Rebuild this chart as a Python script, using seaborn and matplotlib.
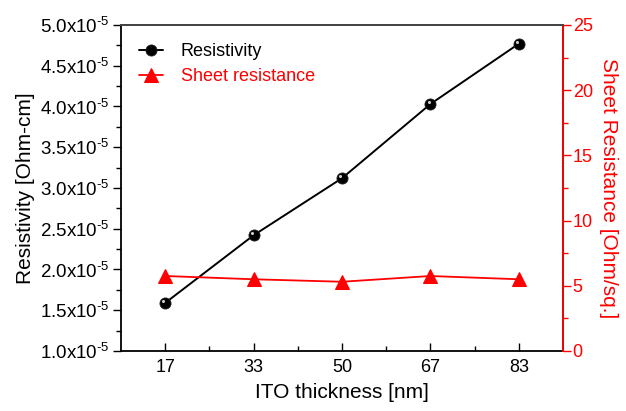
import matplotlib
matplotlib.use("Agg")
import matplotlib.pyplot as plt
import matplotlib.transforms as mtransforms
from matplotlib.ticker import FuncFormatter, MultipleLocator, FixedLocator
import numpy as np
import pandas as pd
import seaborn as sns

# ITO film data
thickness_labels = ["17", "33", "50", "67", "83"]
resistivity = [1.59e-5, 2.42e-5, 3.12e-5, 4.03e-5, 4.77e-5]      # Ohm-cm
sheet_resistance = [5.75, 5.50, 5.31, 5.75, 5.50]                 # Ohm/sq.

sns.set_style("white")
plt.rcParams["font.family"] = ["Liberation Sans", "DejaVu Sans"]
plt.rcParams["mathtext.fontset"] = "custom"
plt.rcParams["mathtext.rm"] = "Liberation Sans"
plt.rcParams["mathtext.it"] = "Liberation Sans"
plt.rcParams["mathtext.default"] = "regular"
for key in ("text.color", "axes.labelcolor", "xtick.color", "ytick.color"):
    plt.rcParams[key] = "black"

df = pd.DataFrame({
    "pos": np.arange(len(thickness_labels)),
    "thickness": thickness_labels,
    "resistivity": resistivity,
    "sheet": sheet_resistance,
})

fig = plt.figure(figsize=(6.26, 4.11), dpi=100)
ax = fig.add_axes([0.1933, 0.146, 0.7061, 0.7932])
ax2 = ax.twinx()

RED = "#ff0000"

sns.lineplot(data=df, x="pos", y="resistivity", ax=ax, color="black",
             marker="o", markersize=8, markerfacecolor="black",
             markeredgecolor="#222222", markeredgewidth=0.6,
             linewidth=1.4, legend=False, zorder=3)
sns.lineplot(data=df, x="pos", y="sheet", ax=ax2, color=RED,
             marker="^", markersize=10, markerfacecolor=RED,
             markeredgecolor=RED, linewidth=1.3, legend=False, zorder=3)

# glossy highlight on the spheres, offset a couple of points up-left
shine = ax.transData + mtransforms.ScaledTranslation(-1.3 / 72, 1.3 / 72,
                                                     fig.dpi_scale_trans)
ax.plot(df["pos"], df["resistivity"], "o", color="#d0d0d0", markersize=2.2,
        markeredgewidth=0, zorder=4, transform=shine)

ax.set_xlim(-0.5, 4.5)
ax.set_ylim(1.0e-5, 5.0e-5)
ax2.set_ylim(0, 25)

ax.xaxis.set_major_locator(FixedLocator(df["pos"]))
ax.set_xticklabels(thickness_labels)
ax.xaxis.set_minor_locator(FixedLocator(df["pos"][:-1] + 0.5))
ax.yaxis.set_major_locator(MultipleLocator(0.5e-5))
ax.yaxis.set_minor_locator(MultipleLocator(0.25e-5))
ax.yaxis.set_major_formatter(
    FuncFormatter(lambda v, p: r"$%.1f\mathrm{x}10^{\text{-}5}$" % (v * 1e5)))
ax2.yaxis.set_major_locator(MultipleLocator(5))
ax2.yaxis.set_minor_locator(MultipleLocator(2.5))

ax.tick_params(axis="x", which="major", direction="in", length=6, width=1,
               labelsize=13, pad=6, bottom=True)
ax.tick_params(axis="x", which="minor", direction="in", length=3.5, width=1,
               bottom=True)
ax.tick_params(axis="y", which="major", direction="out", length=6, width=1,
               labelsize=13.5, pad=2, left=True)
ax.tick_params(axis="y", which="minor", direction="out", length=3.5, width=1,
               left=True)
ax2.tick_params(axis="y", which="major", direction="out", length=6, width=1,
                labelsize=13, colors=RED, pad=1, right=True)
ax2.tick_params(axis="y", which="minor", direction="out", length=3.5, width=1,
                colors=RED, right=True)

for a in (ax, ax2):
    for s in a.spines.values():
        s.set_linewidth(1.3)
ax.spines["left"].set_color("black")
ax.spines["bottom"].set_color("black")
ax.spines["top"].set_color("#444444")
ax2.spines["top"].set_color("#444444")
ax2.spines["right"].set_color(RED)
ax2.spines["left"].set_visible(False)
ax2.spines["bottom"].set_visible(False)

ax.set_xlabel("ITO thickness [nm]", fontsize=15, labelpad=5)
ax.set_ylabel("Resistivity [Ohm-cm]", fontsize=15, labelpad=4)
ax2.set_ylabel("Sheet Resistance [Ohm/sq.]", fontsize=15, color=RED,
               rotation=270, labelpad=18)

handles = [ax.lines[0], ax2.lines[0]]
ax.legend(handles, ["Resistivity", "Sheet resistance"], loc="upper left",
          frameon=False, fontsize=13, handlelength=1.3, handletextpad=1.0,
          labelcolor=["black", RED], bbox_to_anchor=(0.0, 1.0),
          borderaxespad=0.6, labelspacing=0.45)

fig.savefig("out.png", dpi=100)
